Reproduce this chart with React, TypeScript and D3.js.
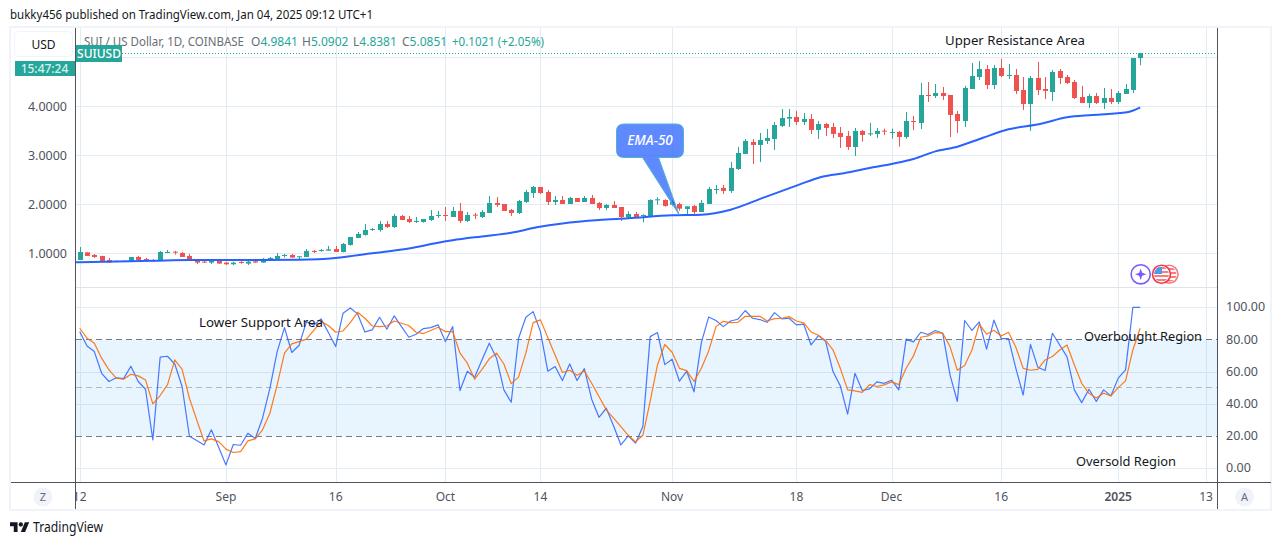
import React from "react";
import * as d3 from "d3";

// ---- data (SUIUSD daily, from 12 Aug 2024) ----
const opens = [
.864,1.020,.966,.946,.864,.830,.844,.830,.925,.884,.844,.850,1.007,1.034,1.007,.946,.864,.830,.810,.844,
.810,.776,.823,.789,.837,.810,.850,.884,.952,.966,.925,.925,1.048,1.048,1.054,1.088,1.027,1.170,1.313,1.374,
1.483,1.476,1.598,1.537,1.762,1.70,1.639,1.639,1.68,1.768,1.782,1.741,1.864,1.66,1.789,1.741,1.823,2.027,2.006,1.884,
1.823,2.047,2.231,2.353,2.251,2.047,2.088,2.006,2.129,2.047,2.129,2.027,1.925,1.986,1.945,1.734,1.802,1.762,1.762,2.081,
2.088,1.993,2.006,1.904,1.966,1.843,2.007,2.30,2.334,2.273,2.721,3.027,3.272,3.211,3.293,3.333,3.599,3.748,3.782,3.68,
3.741,3.517,3.639,3.578,3.456,3.395,3.17,3.497,3.435,3.435,3.503,3.463,3.476,3.374,3.70,3.66,4.231,4.21,4.272,4.231,
3.843,3.70,4.353,4.598,4.761,4.435,4.782,4.625,4.639,4.333,4.047,4.578,4.353,4.292,4.721,4.598,4.496,4.19,4.068,4.21,
4.068,4.17,4.088,4.251,4.333,4.9841];
const highs = [
1.129,1.020,.986,.946,.905,.857,.857,.925,.946,.905,.884,1.048,1.068,1.048,1.027,.986,.864,.864,.864,.864,
.830,.830,.850,.850,.864,.905,.925,1.007,.986,.986,.939,1.088,1.068,1.088,1.150,1.150,1.211,1.333,1.435,1.598,
1.517,1.66,1.66,1.802,1.782,1.762,1.741,1.70,1.884,1.864,1.945,1.945,2.027,1.843,1.823,1.884,2.17,2.149,2.006,1.904,
2.088,2.292,2.374,2.353,2.292,2.17,2.17,2.149,2.129,2.17,2.19,2.047,2.006,2.068,1.945,1.857,1.843,1.796,2.102,2.142,
2.102,2.088,2.034,1.959,1.986,2.088,2.354,2.395,2.395,2.864,3.17,3.333,3.333,3.456,3.537,3.68,3.945,3.945,3.905,3.864,
3.843,3.70,3.66,3.66,3.578,3.497,3.558,3.517,3.66,3.558,3.544,3.544,3.497,3.884,3.803,4.476,4.496,4.455,4.394,4.231,
3.905,4.415,4.884,4.925,4.843,4.843,4.965,4.863,4.761,4.598,4.619,4.904,4.598,4.741,4.761,4.639,4.537,4.415,4.251,4.272,
4.374,4.353,4.313,4.455,4.986,5.0902];
const lows = [
.864,.946,.905,.844,.810,.823,.823,.830,.864,.844,.830,.844,1.007,.973,.925,.850,.782,.810,.782,.789,
.762,.762,.789,.762,.810,.810,.844,.884,.912,.912,.864,.925,1.007,1.034,1.054,1.027,1.020,1.156,1.313,1.360,
1.456,1.442,1.517,1.517,1.68,1.619,1.619,1.626,1.66,1.721,1.66,1.741,1.619,1.639,1.70,1.721,1.823,1.945,1.864,1.762,
1.802,2.027,2.129,2.21,1.986,1.986,2.006,2.006,2.047,2.047,2.006,1.884,1.884,1.925,1.66,1.714,1.734,1.632,1.762,1.993,
1.952,1.966,1.87,1.802,1.789,1.843,2.007,2.211,2.211,2.232,2.70,3.027,2.823,2.864,3.231,3.109,3.578,3.578,3.619,3.619,
3.435,3.333,3.395,3.354,3.15,3.109,2.987,3.279,3.395,3.354,3.415,3.34,3.177,3.34,3.517,3.537,4.088,4.17,4.129,3.374,
3.456,3.578,4.353,4.537,4.353,4.353,4.598,4.557,4.251,3.925,3.497,4.231,4.149,4.109,4.455,4.455,4.149,4.068,3.966,4.047,
3.945,4.047,4.047,4.251,4.272,4.8381];
const closes = [
1.027,.946,.925,.844,.810,.844,.830,.925,.864,.864,.857,1.027,1.027,1.014,.925,.850,.810,.816,.850,.789,
.776,.810,.810,.830,.810,.864,.905,.946,.966,.912,.939,1.048,1.027,1.068,1.082,1.027,1.190,1.333,1.394,1.476,
1.496,1.598,1.537,1.762,1.68,1.639,1.66,1.70,1.762,1.782,1.768,1.864,1.66,1.782,1.775,1.843,2.027,1.986,1.864,1.823,
2.068,2.251,2.353,2.231,2.047,2.088,2.006,2.129,2.047,2.129,2.006,1.925,1.986,1.925,1.741,1.802,1.734,1.782,2.088,2.102,
1.966,2.047,1.911,1.959,1.843,2.028,2.313,2.313,2.273,2.742,3.048,3.293,3.211,3.313,3.354,3.619,3.762,3.782,3.68,3.741,
3.517,3.639,3.558,3.435,3.374,3.17,3.497,3.415,3.449,3.497,3.49,3.476,3.374,3.70,3.687,4.231,4.21,4.272,4.21,3.823,
3.70,4.374,4.619,4.761,4.435,4.782,4.619,4.639,4.313,4.047,4.578,4.333,4.313,4.70,4.578,4.476,4.17,4.068,4.21,4.068,
4.17,4.088,4.272,4.353,4.986,5.0851];

const emaDays = [-1,0,10,15,25,30,35,40,45,49,51,55,59,62.5,66,71,75,81,85,89,93.5,98,101.5,104.5,108,112.5,114,117,120,123.5,127,131.3,135,138.5,143.2,145];
const emaValues = [.815,.818,.847,.863,.863,.869,.905,1.0,1.10,1.215,1.265,1.345,1.42,1.53,1.61,1.68,1.714,1.776,1.788,1.89,2.135,2.38,2.563,2.635,2.74,2.87,2.924,3.08,3.176,3.359,3.53,3.639,3.776,3.822,3.878,3.98];

const stochK = [
84.9,76.0,72.5,59.0,53.9,56.2,55.7,63.4,53.9,49.1,17.6,69.0,69.6,64.8,50.8,19.9,17.2,14.5,23.9,13.1,
2.1,14.8,14.3,21.8,18.5,31.1,49.7,72.5,87.4,71.9,76.4,91.1,88.9,92.8,84.3,75.6,96.3,99.6,95.9,84.7,
86.0,93.8,86.4,94.7,88.0,81.4,83.3,86.8,87.4,89.1,78.7,88.0,48.3,60.3,56.6,67.3,77.7,68.4,48.7,41.0,
80.6,93.8,97.3,84.9,60.3,63.2,54.5,64.8,54.5,61.9,42.9,31.7,37.3,26.3,14.5,20.1,15.6,25.9,81.8,84.3,
64.4,67.7,54.1,60.3,47.5,78.1,94.0,91.8,88.0,91.5,92.6,98.0,93.2,92.4,90.7,96.7,92.8,93.2,89.1,89.5,
76.6,82.4,78.7,60.1,51.2,33.6,59.0,48.3,49.3,53.7,52.8,54.7,48.7,80.2,78.5,84.5,83.1,85.6,83.9,58.0,
41.5,91.8,85.6,90.9,74.0,92.0,80.6,80.6,62.1,45.4,77.0,62.8,60.7,83.9,76.6,69.2,48.7,40.8,49.1,41.5,
48.7,45.0,56.0,61.1,100,100];
const stochD = [
87.0,80.8,77.7,68.4,61.1,56.0,55.3,58.4,57.4,54.9,40.0,45.2,51.8,67.3,61.5,43.5,30.1,17.0,18.3,16.6,
11.9,9.8,10.4,17.0,18.3,23.9,34.2,51.8,71.5,77.3,78.7,80.2,85.6,91.1,88.7,84.5,85.3,90.5,96.9,93.2,
88.4,88.0,88.4,91.5,90.1,88.7,84.5,83.7,85.6,87.6,84.9,84.9,71.5,65.3,55.3,61.5,68.0,71.5,64.8,52.6,
56.6,71.5,90.5,92.2,81.2,70.4,59.5,60.9,57.8,60.5,52.8,44.6,36.3,31.1,25.9,20.5,16.4,20.5,41.5,64.2,
76.9,72.1,62.1,60.7,53.9,62.1,72.9,88.0,91.3,90.5,90.7,94.4,94.4,94.4,91.5,93.0,93.2,94.2,91.5,90.3,
84.7,82.6,79.3,73.5,62.1,48.7,48.1,47.2,52.0,50.8,51.8,53.7,52.0,62.1,69.8,81.4,82.2,84.3,83.9,75.6,
60.9,63.8,73.5,89.5,83.3,85.8,82.2,84.5,75.2,62.1,60.9,61.5,67.3,69.4,73.5,76.6,64.2,52.8,46.6,43.7,
46.6,45.0,50.1,54.3,73.5,87.0];

const priceTicks = [1, 2, 3, 4];
const priceGrid = [1, 2, 3, 4, 5];
const oscTicks = [100, 80, 60, 40, 20, 0];
const oscGrid = [100, 60, 40, 0];
const oscLevels = [80, 50, 20];
const timeDays = [0, 20, 35, 50, 63, 81, 98, 111, 126, 142, 154];
const timeLabels = ["12", "Sep", "16", "Oct", "14", "Nov", "18", "Dec", "16", "2025", "13"];
const lastClose = 5.0851;

const W = 1281, H = 545;
const LEFT = 76, RIGHT = 1217;
const UP = "#26A69A", DOWN = "#EF5350";
const GRID = "#E4ECF3";
const AXIS = "#50535E";
const FONT = "'Noto Sans', 'DejaVu Sans', sans-serif";

const x = d3.scaleLinear().domain([0, 154]).range([79.7, 1206]);
const py = d3.scaleLinear().domain([1, 5]).range([253.3, 57.3]);
const oy = d3.scaleLinear().domain([0, 100]).range([468.3, 307.3]);

const emaLine = d3.line<number>().x((_, i) => x(emaDays[i])).y(d => py(d)).curve(d3.curveMonotoneX);
const oscLine = d3.line<number>().x((_, i) => x(i)).y(d => oy(d));

const ink = (v: number) => Math.round(v) + 0.5;

export default function App() {
  const lastY = ink(py(lastClose));
  return (
    <div style={{ position: "absolute", left: 0, top: 0 }}>
      <svg width={W} height={H} viewBox={`0 0 ${W} ${H}`} style={{ display: "block", background: "#fff", fontFamily: FONT }}>
        <defs>
          <clipPath id="main"><rect x={LEFT} y={28} width={RIGHT - LEFT} height={259} /></clipPath>
          <clipPath id="osc"><rect x={LEFT} y={288} width={RIGHT - LEFT} height={194} /></clipPath>
          <clipPath id="axisClip"><rect x={LEFT} y={483} width={RIGHT - LEFT} height={26} /></clipPath>
          <clipPath id="flagA"><circle cx={1161.5} cy={274.3} r={7.5} /></clipPath>
          <clipPath id="flagB"><circle cx={1169} cy={274.3} r={7.5} /></clipPath>
        </defs>

        <text x={10} y={19} fontSize={12.5} fill="#131722" textLength={363} lengthAdjust="spacingAndGlyphs">bukky456 published on TradingView.com, Jan 04, 2025 09:12 UTC+1</text>

        {/* vertical grid */}
        {timeDays.map(d => (
          <g key={d}>
            <line x1={ink(x(d))} x2={ink(x(d))} y1={28} y2={287} stroke={GRID} />
            <line x1={ink(x(d))} x2={ink(x(d))} y1={288} y2={482} stroke={GRID} />
          </g>
        ))}
        {/* horizontal grid */}
        {priceGrid.map(p => <line key={p} x1={LEFT} x2={RIGHT} y1={ink(py(p))} y2={ink(py(p))} stroke={GRID} />)}
        {oscGrid.map(v => <line key={v} x1={LEFT} x2={RIGHT} y1={ink(oy(v))} y2={ink(oy(v))} stroke={GRID} />)}

        {/* oscillator band */}
        <rect x={LEFT} y={oy(80)} width={RIGHT - LEFT} height={oy(20) - oy(80)} fill="#2196F3" fillOpacity={0.1} />
        {oscLevels.map(v => (
          <line key={v} x1={LEFT} x2={RIGHT} y1={Math.floor(oy(v)) + 0.5} y2={Math.floor(oy(v)) + 0.5}
            stroke="#787B86" strokeOpacity={v === 50 ? 0.5 : 1} strokeDasharray="6 4" />
        ))}

        {/* last price line */}
        <line x1={122} x2={RIGHT} y1={lastY} y2={lastY} stroke={UP} strokeDasharray="1 2" />

        {/* candles */}
        <g clipPath="url(#main)">
          {opens.map((o, i) => {
            const c = closes[i];
            const col = c >= o ? UP : DOWN;
            const top = py(Math.max(o, c));
            const bot = py(Math.min(o, c));
            const cx = Math.round(x(i));
            return (
              <g key={i}>
                <rect x={cx} y={py(highs[i])} width={1} height={py(lows[i]) - py(highs[i])} fill={col} />
                <rect x={cx - 2} y={top} width={5} height={Math.max(bot - top, 1)} fill={col} />
              </g>
            );
          })}
          <path d={emaLine(emaValues) as string} fill="none" stroke="#2962FF" strokeWidth={2} />
        </g>

        {/* stochastic RSI */}
        <g clipPath="url(#osc)">
          <path d={oscLine(stochK) as string} fill="none" stroke="#2962FF" strokeOpacity={0.85} strokeWidth={1.2} strokeLinejoin="round" />
          <path d={oscLine(stochD) as string} fill="none" stroke="#FF6D00" strokeOpacity={0.9} strokeWidth={1.2} strokeLinejoin="round" />
        </g>

        {/* EMA-50 callout */}
        <g>
          <path d="M624,124 H676 Q683.5,124 683.5,131 V150.5 Q683.5,157.5 676,157.5 H658.5 L679,214.5 L642.5,157.5 H624 Q616.5,157.5 616.5,150.5 V131 Q616.5,124 624,124 Z"
            fill="#2962FF" fillOpacity={0.75} stroke="#4FB3CF" strokeWidth={1} strokeLinejoin="round" />
          <text x={650} y={145} textAnchor="middle" fontSize={13.5} fontWeight={500} fontStyle="italic" fill="#fff">EMA-50</text>
        </g>

        {/* annotations */}
        <text x={945} y={45} fontSize={13} fill="#131722" textLength={140} lengthAdjust="spacingAndGlyphs">Upper Resistance Area</text>
        <text x={199} y={327} fontSize={13} fill="#131722" textLength={124} lengthAdjust="spacingAndGlyphs">Lower Support Area</text>
        <text x={1084} y={341} fontSize={13} fill="#131722" textLength={118} lengthAdjust="spacingAndGlyphs">Overbought Region</text>
        <text x={1076} y={466} fontSize={13} fill="#131722" textLength={100} lengthAdjust="spacingAndGlyphs">Oversold Region</text>

        {/* event icons */}
        <circle cx={1169} cy={274.3} r={9} fill="#fff" stroke="#F77C80" strokeWidth={1.6} />
        <g clipPath="url(#flagB)">
          <rect x={1160} y={266} width={18} height={17} fill="#fff" />
          {[268, 272, 276, 280].map(y => <rect key={y} x={1160} y={y} width={18} height={2} fill="#F77C80" />)}
        </g>
        <circle cx={1161.5} cy={274.3} r={9} fill="#fff" stroke="#F23645" strokeWidth={1.6} />
        <g clipPath="url(#flagA)">
          {[267, 271, 275, 279].map(y => <rect key={y} x={1153} y={y} width={18} height={2} fill="#F77C80" />)}
          <rect x={1153} y={266} width={9} height={8} fill="#4D9BE8" />
        </g>
        <circle cx={1140.7} cy={274.3} r={9.6} fill="#fff" stroke="#7E57FF" strokeWidth={1.6} />
        <path d="M1140.7,268.6 L1142.2,272.8 L1146.4,274.3 L1142.2,275.8 L1140.7,280 L1139.2,275.8 L1135,274.3 L1139.2,272.8 Z" fill="#7E57FF" />

        {/* frame and axes */}
        <rect x={10} y={27} width={1261} height={483} fill="none" stroke="#F0F3FA" strokeWidth={2} />
        <line x1={LEFT} x2={RIGHT} y1={287.5} y2={287.5} stroke="#E0E3EB" />
        <line x1={11} x2={1271} y1={482.5} y2={482.5} stroke={AXIS} />
        <line x1={75.5} x2={75.5} y1={28} y2={509} stroke={AXIS} />
        <line x1={1217.5} x2={1217.5} y1={28} y2={509} stroke={AXIS} />

        {/* legend */}
        <text x={84} y={46} fontSize={12} fill="#6A6D78" textLength={160} lengthAdjust="spacingAndGlyphs">SUI / US Dollar, 1D, COINBASE</text>
        <text x={251} y={46} fontSize={12} fill="#6A6D78">O<tspan fill={UP}>4.9841</tspan></text>
        <text x={302} y={46} fontSize={12} fill="#6A6D78">H<tspan fill={UP}>5.0902</tspan></text>
        <text x={353} y={46} fontSize={12} fill="#6A6D78">L<tspan fill={UP}>4.8381</tspan></text>
        <text x={402} y={46} fontSize={12} fill="#6A6D78">C<tspan fill={UP}>5.0851</tspan></text>
        <text x={452} y={46} fontSize={12} fill={UP} textLength={92} lengthAdjust="spacingAndGlyphs">+0.1021 (+2.05%)</text>

        {/* price axis */}
        <rect x={14.5} y={31.5} width={58} height={25} rx={4} fill="#fff" stroke="#F0F3FA" strokeWidth={1} />
        <text x={43.5} y={48.5} textAnchor="middle" fontSize={12} fill="#131722">USD</text>
        {priceTicks.map(p => (
          <text key={p} x={67} y={py(p) + 4.5} textAnchor="end" fontSize={12.5} fill={AXIS}>{p.toFixed(4)}</text>
        ))}
        <rect x={15} y={61} width={60} height={15} fill={UP} />
        <text x={44.5} y={72.5} textAnchor="middle" fontSize={12} fontWeight={500} fill="#D6F0EC">15:47:24</text>
        <rect x={76} y={45} width={46} height={17} fill={UP} />
        <text x={99} y={58} textAnchor="middle" fontSize={12} fontWeight={500} fill="#fff">SUIUSD</text>

        {/* oscillator axis */}
        {oscTicks.map(v => (
          <text key={v} x={1226} y={oy(v) + 4} fontSize={12.5} fill={AXIS}>{v.toFixed(2)}</text>
        ))}

        {/* time axis */}
        <g clipPath="url(#axisClip)">
          {timeDays.map((d, i) => (
            <text key={d} x={x(d)} y={500.5} textAnchor="middle" fontSize={12} fontWeight={timeLabels[i] === "2025" ? 600 : 400} fill={AXIS}>{timeLabels[i]}</text>
          ))}
        </g>
        <circle cx={43} cy={497} r={9.5} fill="#F0F3FA" />
        <text x={43} y={501} textAnchor="middle" fontSize={11} fill="#6A6D78">Z</text>
        <circle cx={1244.5} cy={497} r={9.5} fill="#F0F3FA" />
        <text x={1244.5} y={501} textAnchor="middle" fontSize={11} fill="#6A6D78">A</text>

        {/* brand */}
        <g transform="translate(10,520.2) scale(0.54)" fill="#131722">
          <path d="M14 22H7V11H0V4h14v18zM28 22h-8l7.5-18h8L28 22z" />
          <circle cx={20} cy={8} r={4} />
        </g>
        <text x={33} y={532} fontSize={13.5} fill="#131722" textLength={70} lengthAdjust="spacingAndGlyphs">TradingView</text>
      </svg>
    </div>
  );
}
